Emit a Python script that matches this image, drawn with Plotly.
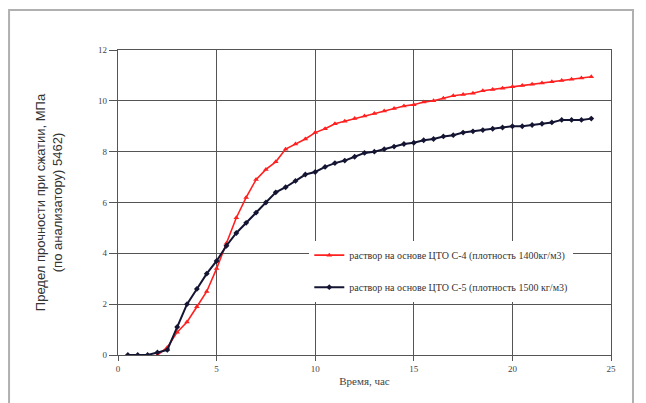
import plotly.graph_objects as go

# time, hours
t_c4 = [2.0, 2.5, 3.0, 3.5, 4.0, 4.5, 5.0, 5.5, 6.0, 6.5, 7.0, 7.5, 8.0, 8.5, 9.0, 9.5,
        10.0, 10.5, 11.0, 11.5, 12.0, 12.5, 13.0, 13.5, 14.0, 14.5, 15.0, 15.5, 16.0,
        16.5, 17.0, 17.5, 18.0, 18.5, 19.0, 19.5, 20.0, 20.5, 21.0, 21.5, 22.0, 22.5,
        23.0, 23.5, 24.0]
v_c4 = [0.0, 0.3, 0.9, 1.3, 1.9, 2.5, 3.4, 4.4, 5.4, 6.2, 6.9, 7.3, 7.6, 8.1, 8.3, 8.5,
        8.75, 8.9, 9.1, 9.2, 9.3, 9.4, 9.5, 9.6, 9.7, 9.8, 9.85, 9.95, 10.0,
        10.1, 10.2, 10.25, 10.3, 10.4, 10.45, 10.5, 10.55, 10.6, 10.65, 10.7, 10.75, 10.8,
        10.85, 10.9, 10.95]

t_c5 = [0.5, 1.0, 1.5, 2.0, 2.5, 3.0, 3.5, 4.0, 4.5, 5.0, 5.5, 6.0, 6.5, 7.0, 7.5, 8.0,
        8.5, 9.0, 9.5, 10.0, 10.5, 11.0, 11.5, 12.0, 12.5, 13.0, 13.5, 14.0, 14.5, 15.0,
        15.5, 16.0, 16.5, 17.0, 17.5, 18.0, 18.5, 19.0, 19.5, 20.0, 20.5, 21.0, 21.5,
        22.0, 22.5, 23.0, 23.5, 24.0]
v_c5 = [0.0, 0.0, 0.0, 0.1, 0.2, 1.1, 2.0, 2.6, 3.2, 3.7, 4.3, 4.8, 5.2, 5.6, 6.0, 6.4,
        6.6, 6.85, 7.1, 7.2, 7.4, 7.55, 7.65, 7.8, 7.95, 8.0, 8.1, 8.2, 8.3, 8.35,
        8.45, 8.5, 8.6, 8.65, 8.75, 8.8, 8.85, 8.9, 8.95, 9.0, 9.0, 9.05, 9.1,
        9.15, 9.25, 9.25, 9.25, 9.3]

name_c4 = "раствор на основе ЦТО С-4 (плотность 1400кг/м3)"
name_c5 = "раствор на основе ЦТО С-5 (плотность 1500 кг/м3)"

x_ticks = [0, 5, 10, 15, 20, 25]
y_ticks = [0, 2, 4, 6, 8, 10, 12]

serif = "Liberation Serif"
sans = "Liberation Sans"

fig = go.Figure()
fig.add_trace(go.Scatter(
    x=t_c4, y=v_c4, name=name_c4, mode="lines+markers", legendgroup="a",
    line=dict(color="#ff2020", width=1.6),
    marker=dict(symbol="triangle-up", size=5, color="#ff2020"),
))
fig.add_trace(go.Scatter(
    x=t_c5, y=v_c5, name=name_c5, mode="lines+markers", legendgroup="b",
    line=dict(color="#141433", width=2),
    marker=dict(symbol="diamond", size=4.5, color="#141433"),
))

grid = "#555555"
fig.update_layout(
    width=638, height=395,
    margin=dict(l=110, r=35, t=42, b=48),
    paper_bgcolor="white", plot_bgcolor="white",
    showlegend=True,
    legend=dict(
        x=0.388, y=0.375, xanchor="left", yanchor="top",
        bgcolor="white", borderwidth=0,
        font=dict(family=serif, size=10, color="#333333"),
        tracegroupgap=13, itemwidth=30,
    ),
    xaxis=dict(
        range=[0, 25], tickvals=x_ticks, ticktext=[str(v) for v in x_ticks],
        automargin=False,
        showgrid=True, gridcolor=grid, gridwidth=1.3,
        showline=True, linecolor=grid, linewidth=1.3, mirror=True,
        ticks="outside", ticklen=5, tickcolor=grid,
        tickfont=dict(family=serif, size=9, color="#444444"),
        zeroline=False,
        title=dict(text="Время, час", font=dict(family=serif, size=11, color="#444444"),
                   standoff=4),
    ),
    yaxis=dict(
        range=[0, 12], tickvals=y_ticks, ticktext=[str(v) for v in y_ticks],
        automargin=False,
        showgrid=True, gridcolor=grid, gridwidth=1.3,
        showline=True, linecolor=grid, linewidth=1.3, mirror=True,
        ticks="outside", ticklen=8, tickcolor=grid,
        tickfont=dict(family=serif, size=9, color="#444444"),
        zeroline=False,
        title=dict(text="Предел прочности при сжатии, МПа<br>(по анализатору) 5462)",
                   font=dict(family=sans, size=13, color="#333333"), standoff=32),
    ),
    shapes=[
        dict(type="path", xref="paper", yref="paper",
             path="M -0.221,-0.3 L -0.221,1.131 L 1.0446,1.131 L 1.0446,-0.3",
             line=dict(color="#b0b0b0", width=2), layer="above"),
    ],
)

fig.write_html("out.html")
